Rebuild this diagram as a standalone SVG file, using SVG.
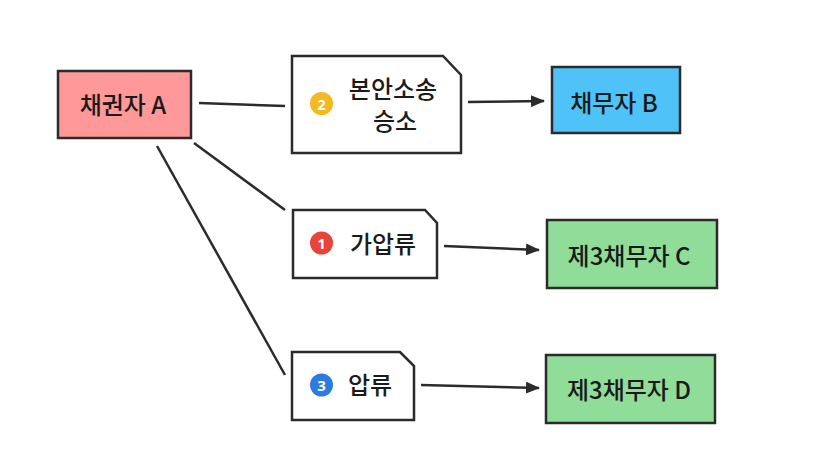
<svg xmlns="http://www.w3.org/2000/svg" width="813" height="476" viewBox="0 0 813 476">
<defs>
<style>
.box{stroke:#2b2b2b;stroke-width:2.5}
.note{fill:#fff;stroke:#2b2b2b;stroke-width:2.5}
.t{font-family:"Noto Sans CJK KR","Noto Sans",sans-serif;font-size:24px;font-weight:500;fill:#1a1a1a;text-anchor:middle;dominant-baseline:central}
.bn{font-family:"Noto Sans","Liberation Sans",sans-serif;font-size:15px;font-weight:bold;fill:#fff;text-anchor:middle;dominant-baseline:central}
.c{stroke:#2b2b2b;stroke-width:2.5;fill:none}
</style>
<marker id="ah" markerWidth="14" markerHeight="12" refX="13" refY="6" orient="auto" markerUnits="userSpaceOnUse">
<path d="M0,0 L14,6 L0,12 Z" fill="#2b2b2b"/>
</marker>
</defs>
<rect width="813" height="476" fill="#fff"/>
<g id="connectors">
<line class="c" x1="199" y1="103" x2="285" y2="106"/>
<line class="c" x1="468" y1="102" x2="544" y2="101" marker-end="url(#ah)"/>
<line class="c" x1="194" y1="143" x2="285" y2="210"/>
<line class="c" x1="444" y1="246" x2="539" y2="250" marker-end="url(#ah)"/>
<line class="c" x1="157" y1="146" x2="285" y2="375"/>
<line class="c" x1="421" y1="385" x2="539" y2="388" marker-end="url(#ah)"/>
</g>
<g id="nodeA">
<rect class="box" x="58" y="71" width="133" height="67" fill="#FF9999"/>
<text class="t" x="123" y="103">채권자 A</text>
</g>
<g id="node2">
<path class="note" d="M292,56 L443,56 L461,75 L461,153 L292,153 Z"/>
<circle cx="321.5" cy="103.5" r="11.5" fill="#F5B81F"/>
<text class="bn" x="321.5" y="103.5">2</text>
<text class="t" x="393" y="87">본안소송</text>
<text class="t" x="395" y="119">승소</text>
</g>
<g id="nodeB">
<rect class="box" x="552" y="67" width="128" height="66" fill="#4FC3F7"/>
<text class="t" x="614" y="101">채무자 B</text>
</g>
<g id="node1">
<path class="note" d="M293,210 L425,210 L437,223 L437,278 L293,278 Z"/>
<circle cx="321.5" cy="243" r="11.5" fill="#E8443A"/>
<text class="bn" x="321.5" y="243">1</text>
<text class="t" x="383" y="242">가압류</text>
</g>
<g id="nodeC">
<rect class="box" x="547" y="220" width="170" height="68" fill="#8FDD98"/>
<text class="t" x="629" y="254">제3채무자 C</text>
</g>
<g id="node3">
<path class="note" d="M292,352 L400,352 L414,366 L414,420 L292,420 Z"/>
<circle cx="321.5" cy="385" r="11.5" fill="#2E7BE0"/>
<text class="bn" x="321.5" y="385">3</text>
<text class="t" x="370" y="383">압류</text>
</g>
<g id="nodeD">
<rect class="box" x="546" y="355" width="169" height="68" fill="#8FDD98"/>
<text class="t" x="629" y="388">제3채무자 D</text>
</g>
</svg>
